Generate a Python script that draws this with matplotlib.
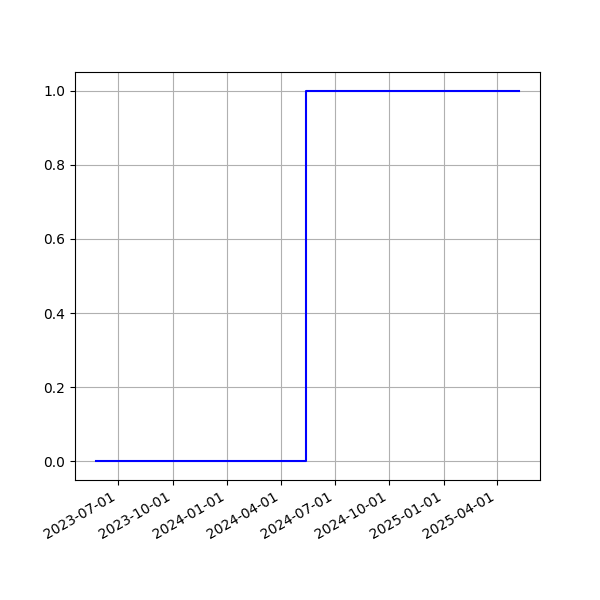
import numpy as np
import pandas as pd
import matplotlib
matplotlib.use('Agg')
import matplotlib.pyplot as plt
import matplotlib.dates as mdates

# step series: 0 until the switch date, then 1
dates = pd.to_datetime(['2023-05-25', '2024-05-13', '2025-05-08'])
values = [0, 1, 1]

fig, ax = plt.subplots(figsize=(6, 6), dpi=100)
ax.plot(dates, values, color='blue', drawstyle='steps-post')
ax.xaxis.set_major_locator(mdates.MonthLocator(bymonth=[1, 4, 7, 10]))
ax.xaxis.set_major_formatter(mdates.DateFormatter('%Y-%m-%d'))
ax.grid(True)
fig.autofmt_xdate()

fig.savefig('out.png')
